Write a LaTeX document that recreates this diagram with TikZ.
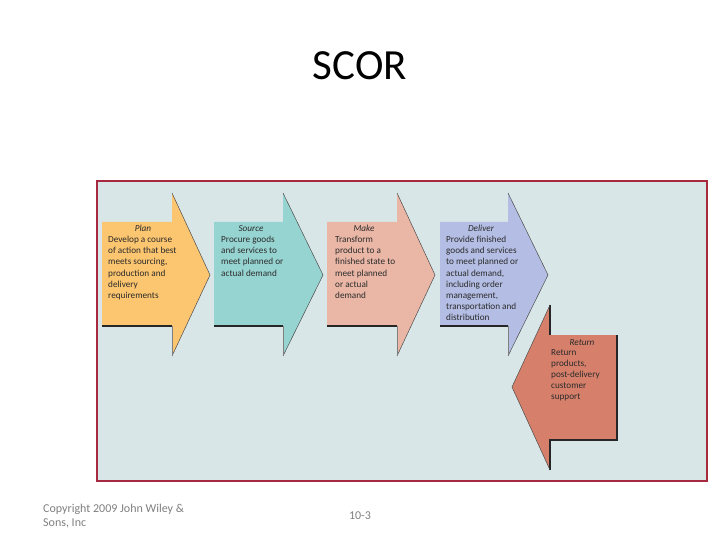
\documentclass[tikz,border=0pt]{standalone}
\usepackage{fontspec}
\setmainfont{Carlito}
\definecolor{panelbg}{HTML}{D9E6E8}
\definecolor{panelbd}{HTML}{A8293F}
\definecolor{cplan}{HTML}{FCC56F}
\definecolor{csource}{HTML}{96D4D1}
\definecolor{cmake}{HTML}{EAB7A6}
\definecolor{cdeliver}{HTML}{B4BEE4}
\definecolor{creturn}{HTML}{D6806B}
\definecolor{txt}{HTML}{2B2B2B}
\definecolor{foot}{HTML}{7F7F7F}
\begin{document}
\begin{tikzpicture}[x=1pt,y=-1pt,
  shadowline/.style={draw=black!85,line width=1.1pt},
  slant/.style={draw=black!70,line width=0.5pt},
  body/.style={anchor=north west,align=left,inner sep=0pt,font=\fontsize{9.2}{11.2}\selectfont,text=txt},
  lbl/.style={anchor=base,inner sep=0pt,font=\fontsize{9.2}{11.2}\selectfont\itshape,text=txt},
  foottxt/.style={inner sep=0pt,text=foot,font=\fontsize{12}{13}\selectfont}]
\useasboundingbox (0,0) rectangle (720,540);
\node[font=\fontsize{43}{46}\selectfont,anchor=base] (title) at (360,80) {SCOR};
\node[rectangle,draw=panelbd,line width=2pt,fill=panelbg,minimum width=610pt,minimum height=299pt,inner sep=0pt] (panel) at (402,331) {};
% forward arrows: rect left, rect right(base), tip
\foreach \nm/\l/\b/\t/\c in {plan/102/172/210/cplan, source/214/283/323/csource, make/327/397/435/cmake, deliver/440/508/548/cdeliver}{
  \fill[\c] (\l,222) -- (\b,222) -- (\b,193) -- (\t,275) -- (\b,356) -- (\b,326) -- (\l,326) -- cycle;
  \draw[shadowline] (\l,326) -- (\b,326);
  \draw[slant] (\b,193) -- (\t,275) -- (\b,356);
  \draw[line width=0.4pt,draw=black!50] (\b,326) -- (\b,356);
}
% return arrow
\fill[creturn] (617,335) -- (550,335) -- (550,305) -- (512,387) -- (550,470) -- (550,440) -- (617,440) -- cycle;
\draw[shadowline] (550,305) -- (550,335);
\draw[shadowline] (617,335) -- (617,440) -- (550,440) -- (550,470);
\draw[slant] (550,305) -- (512,387) -- (550,470);
% labels
\node[lbl] (lplan) at (143,232) {Plan};
\node[body] (tplan) at (108,236) {Develop a course\\of action that best\\meets sourcing,\\production and\\delivery\\requirements};
\node[lbl] (lsource) at (251,232) {Source};
\node[body] (tsource) at (221,236) {Procure goods\\and services to\\meet planned or\\actual demand};
\node[lbl] (lmake) at (364,232) {Make};
\node[body] (tmake) at (335,236) {Transform\\product to a\\finished state to\\meet planned\\or actual\\demand};
\node[lbl] (ldeliver) at (481,232) {Deliver};
\node[body] (tdeliver) at (446,236) {Provide finished\\goods and services\\to meet planned or\\actual demand,\\including order\\management,\\transportation and\\distribution};
\node[lbl] (lreturn) at (582,345) {Return};
\node[body] (treturn) at (551,349) {Return\\products,\\post-delivery\\customer\\support};
% footer
\node[foottxt,anchor=base west] (copy) at (43,512) {Copyright 2009 John Wiley \&};
\node[foottxt,anchor=base west] (copy2) at (43,526) {Sons, Inc};
\node[foottxt,anchor=base] (page) at (360,519) {10-3};
\end{tikzpicture}
\end{document}
